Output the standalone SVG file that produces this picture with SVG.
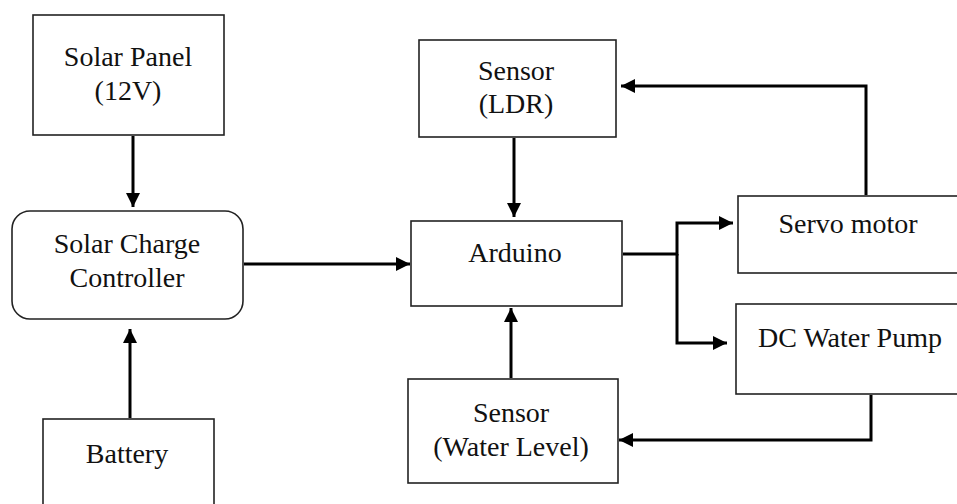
<svg xmlns="http://www.w3.org/2000/svg" width="957" height="504" viewBox="0 0 957 504">
  <defs>
    <marker id="arr" markerUnits="userSpaceOnUse" markerWidth="15" markerHeight="14" refX="14" refY="7" orient="auto">
      <path d="M0,0 L14,7 L0,14 z" fill="#000"/>
    </marker>
    <style>
      .box { fill: #fff; stroke: #222; stroke-width: 1.6; }
      .lbl { font-family: "Liberation Serif", "Times New Roman", serif; font-size: 28px; fill: #111; text-anchor: middle; }
      .con { fill: none; stroke: #000; stroke-width: 3; stroke-linejoin: miter; }
    </style>
  </defs>
  <rect width="957" height="504" fill="#fff"/>

  <g id="solar-panel">
    <rect class="box" x="33" y="15" width="191" height="120"/>
    <text class="lbl" x="128" y="66">Solar Panel</text>
    <text class="lbl" x="128" y="100">(12V)</text>
  </g>
  <g id="charge-controller">
    <rect class="box" x="12" y="211" width="231" height="108" rx="18" ry="18"/>
    <text class="lbl" x="127" y="253">Solar Charge</text>
    <text class="lbl" x="127" y="287">Controller</text>
  </g>
  <g id="battery">
    <rect class="box" x="43" y="419" width="171" height="110"/>
    <text class="lbl" x="127" y="463">Battery</text>
  </g>
  <g id="sensor-ldr">
    <rect class="box" x="419" y="40" width="197" height="97"/>
    <text class="lbl" x="516" y="80">Sensor</text>
    <text class="lbl" x="516" y="113">(LDR)</text>
  </g>
  <g id="arduino">
    <rect class="box" x="411" y="221" width="211" height="85"/>
    <text class="lbl" x="515" y="262">Arduino</text>
  </g>
  <g id="sensor-water-level">
    <rect class="box" x="408" y="379" width="210" height="104"/>
    <text class="lbl" x="511" y="422">Sensor</text>
    <text class="lbl" x="511" y="456">(Water Level)</text>
  </g>
  <g id="servo-motor">
    <rect class="box" x="738" y="196" width="240" height="77"/>
    <text class="lbl" x="848" y="233">Servo motor</text>
  </g>
  <g id="dc-water-pump">
    <rect class="box" x="736" y="304" width="240" height="90"/>
    <text class="lbl" x="850" y="347">DC Water Pump</text>
  </g>

  <g id="connectors">
    <path class="con" d="M133,136 V207" marker-end="url(#arr)"/>
    <path class="con" d="M130,418 V329" marker-end="url(#arr)"/>
    <path class="con" d="M244,264 H410" marker-end="url(#arr)"/>
    <path class="con" d="M514,138 V217" marker-end="url(#arr)"/>
    <path class="con" d="M511,378 V308" marker-end="url(#arr)"/>
    <path class="con" d="M623,254 H677 V223 H733" marker-end="url(#arr)"/>
    <path class="con" d="M677,254 V343 H727" marker-end="url(#arr)"/>
    <path class="con" d="M866,195 V86 H621" marker-end="url(#arr)"/>
    <path class="con" d="M871,395 V440 H619" marker-end="url(#arr)"/>
  </g>
</svg>
